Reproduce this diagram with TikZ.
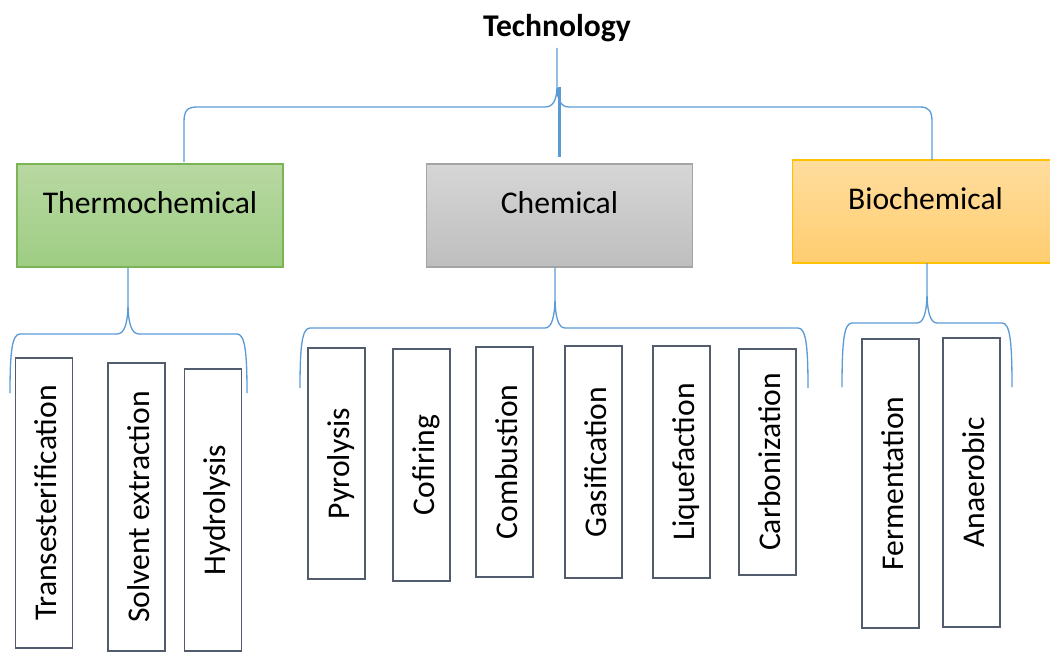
\documentclass[tikz,border=0pt]{standalone}
\usepackage{fontspec}
\setmainfont{Carlito}
\usepackage{tikz}

\definecolor{bracecol}{RGB}{91,155,213}
\definecolor{leafline}{RGB}{82,92,108}
\definecolor{thermotop}{RGB}{184,216,162}
\definecolor{thermobot}{RGB}{158,205,131}
\definecolor{thermoline}{RGB}{122,180,84}
\definecolor{chemtop}{RGB}{214,214,214}
\definecolor{chembot}{RGB}{190,190,190}
\definecolor{chemline}{RGB}{165,165,165}
\definecolor{biotop}{RGB}{255,221,158}
\definecolor{biobot}{RGB}{255,205,112}
\definecolor{bioline}{RGB}{255,192,0}

\begin{document}
\begin{tikzpicture}[x=0.02cm,y=-0.02cm,
    every node/.style={font=\fontsize{18}{22}\selectfont},
    group/.style={line width=0.7pt, minimum width=5.32cm, minimum height=2.06cm,
      text height=0.4cm, text depth=0.48cm},
    leaf/.style={draw=leafline, line width=0.85pt, rotate=90, inner sep=0pt,
      minimum height=1.14cm, text height=0.5cm, text depth=0cm},
    brace/.style={draw=bracecol, line width=0.75pt},
    stem/.style={draw=bracecol, line width=1.2pt}]
  \useasboundingbox (0,0) rectangle (1050,652);

  \node[font=\bfseries\fontsize{18}{22}\selectfont] (tech) at (557,28) {Technology};

  \node[group, draw=thermoline, top color=thermotop, bottom color=thermobot] (thermo) at (150,215.5) {Thermochemical};
  \node[group, draw=chemline, top color=chemtop, bottom color=chembot]       (chem)   at (559.5,215.5) {Chemical};
  \node[group, draw=bioline, top color=biotop, bottom color=biobot]          (bio)    at (925.5,211.5) {Biochemical};

  \node[leaf, minimum width=5.8cm]  (trans)     at (44,503)    {Transesterification};
  \node[leaf, minimum width=5.76cm] (solvent)   at (136.5,507) {Solvent extraction};
  \node[leaf, minimum width=5.64cm] (hydro)     at (213,510)   {Hydrolysis};
  \node[leaf, minimum width=4.62cm] (pyro)      at (336.5,463.5) {Pyrolysis};
  \node[leaf, minimum width=4.64cm] (cofire)    at (421.5,465) {Cofiring};
  \node[leaf, minimum width=4.6cm]  (combust)   at (504.5,462) {Combustion};
  \node[leaf, minimum width=4.64cm] (gasify)    at (593.5,462) {Gasification};
  \node[leaf, minimum width=4.64cm] (liquefy)   at (681.5,462) {Liquefaction};
  \node[leaf, minimum width=4.52cm] (carbon)    at (767.5,462) {Carbonization};
  \node[leaf, minimum width=5.78cm] (ferment)   at (890.5,483.5) {Fermentation};
  \node[leaf, minimum width=5.78cm] (anaerobic) at (971.5,482.5) {Anaerobic};

  %% braces
  \draw[brace] (184,162) -- (184,122) .. controls (184,111) and (187,107) .. (197,107)
    -- (545,107) .. controls (553,107) and (557,100) .. (557,86) -- (557,48)
    (557,86) .. controls (557,100) and (561,107) .. (569,107)
    -- (920,107) .. controls (929,107) and (932,111) .. (932,122) -- (932,160);
  \draw[stem] ([yshift=0.12cm]chem.north) -- ++(0,-70);

  \draw[brace] (10,393) .. controls (10,352) and (12,334) .. (20,334) -- (117,334)
    .. controls (125,334) and (128,322) .. (128,302) -- (128,267)
    (128,302) .. controls (128,322) and (131,334) .. (139,334) -- (237,334)
    .. controls (245,334) and (247,352) .. (247,393);
  \draw[brace] (300,388) .. controls (300,346) and (302,328) .. (310,328) -- (545,328)
    .. controls (552,328) and (555,316) .. (555,296) -- (555,267)
    (555,296) .. controls (555,316) and (558,328) .. (565,328) -- (798,328)
    .. controls (806,328) and (808,346) .. (808,388);
  \draw[brace] (842,387) .. controls (842,341) and (844,323) .. (852,323) -- (917,323)
    .. controls (924,323) and (927,311) .. (927,291) -- (927,263)
    (927,291) .. controls (927,311) and (930,323) .. (937,323) -- (1002,323)
    .. controls (1010,323) and (1012,341) .. (1012,387);
\end{tikzpicture}
\end{document}
